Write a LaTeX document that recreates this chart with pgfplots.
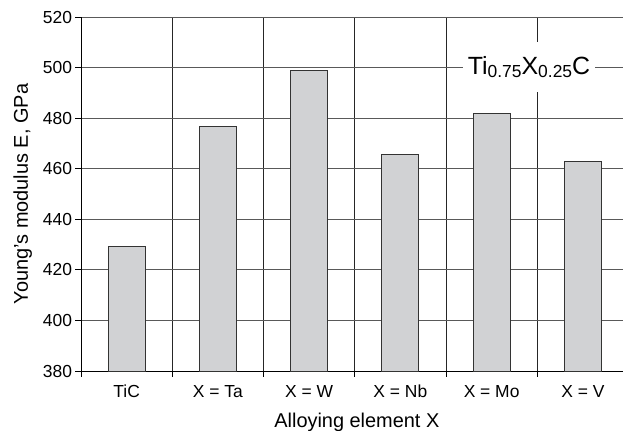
\documentclass[border=0pt]{standalone}
\usepackage{pgfplots}
\pgfplotsset{compat=1.18}
\usepackage{fontspec}
\setmainfont{Liberation Sans}
\definecolor{barfill}{HTML}{D1D2D4}
\newcommand{\sub}[1]{\raisebox{-3bp}{\fontsize{17.5}{17.5}\selectfont #1}}
\begin{document}
\begin{tikzpicture}
\begin{axis}[name=ax,
  scale only axis, width=542bp, height=354bp,
  xmin=-0.5, xmax=5.44, ymin=380, ymax=520,
  ytick={380,400,...,520},
  xtick={-0.5,0.5,...,5.5}, xticklabels={},
  extra x ticks={0,1,2,3,4,5},
  extra x tick labels={TiC,X = Ta,X = W,X = Nb,X = Mo,X = V},
  extra x tick style={major tick length=0pt, grid=none,
    xticklabel style={anchor=base, yshift=-26.7bp}},
  axis x line*=bottom, axis y line*=left,
  axis line style={line width=0.8bp, black},
  tick align=outside, major tick length=5.5bp,
  tick style={line width=0.8bp, black},
  xmajorgrids, ymajorgrids,
  x grid style={line width=0.8bp, black!85},
  y grid style={line width=0.8bp, black!65},
  tick label style={font=\fontsize{17.5}{19}\selectfont},
  /pgf/number format/assume math mode=true,
  xlabel={Alloying element X},
  ylabel={Young's modulus E, GPa},
  label style={font=\fontsize{20}{24}\selectfont},
  xlabel style={at={(axis description cs:0.509,0)}, anchor=base, yshift=-56.3bp},
  ylabel style={at={(axis description cs:-0.131,0.5)}, anchor=north, rotate=0},
]
\addplot[ybar, fill=barfill, draw=black!80, line width=0.8bp, bar width=0.406]
  coordinates {(0,429.2) (1,476.7) (2,498.8) (3,465.8) (4,482.0) (5,463.0)};
\node[fill=white, inner xsep=5bp, inner ysep=0pt, minimum height=50bp,
      font=\fontsize{25}{25}\selectfont] at (axis cs:4.41,500.3)
  {Ti\sub{0.75}X\sub{0.25}C};
\end{axis}
\pgfresetboundingbox
\path (ax.south west) ++(-81bp,-60bp) rectangle ++(623bp,431bp);
\end{tikzpicture}
\end{document}
